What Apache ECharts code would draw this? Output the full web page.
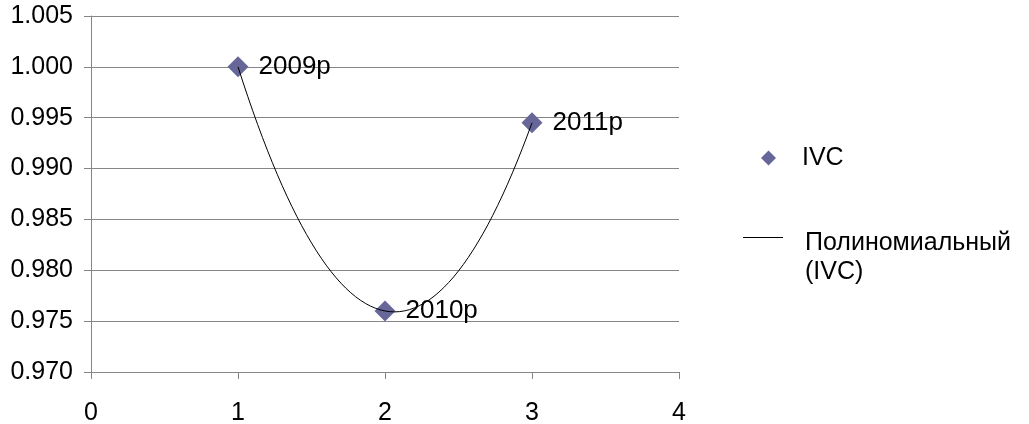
<!DOCTYPE html>
<html>
<head>
<meta charset="utf-8">
<script src="https://cdn.jsdelivr.net/npm/echarts@6/dist/echarts.min.js"></script>
<style>
  html, body { margin: 0; padding: 0; background: #fff; }
  #main { width: 1029px; height: 424px; }
</style>
</head>
<body>
<div id="main"></div>
<script>
// data
var xValues = [1, 2, 3];
var yValues = [1.000, 0.976, 0.9945];
var pointLabels = ['2009p', '2010p', '2011p'];
var seriesName = 'IVC';
var trendName = 'Полиномиальный (IVC)';

// polynomial (order 2) trendline fitted to the points, like the spreadsheet does
function quadFit(xs, ys) {
  // normal equations for a + b x + c x^2
  var s = [0, 0, 0, 0, 0], t = [0, 0, 0];
  for (var i = 0; i < xs.length; i++) {
    var p = 1;
    for (var k = 0; k < 5; k++) { s[k] += p; if (k < 3) t[k] += p * ys[i]; p *= xs[i]; }
  }
  var m = [[s[0], s[1], s[2], t[0]], [s[1], s[2], s[3], t[1]], [s[2], s[3], s[4], t[2]]];
  for (var c = 0; c < 3; c++) {
    for (var r = c + 1; r < 3; r++) {
      var f = m[r][c] / m[c][c];
      for (var j = c; j < 4; j++) m[r][j] -= f * m[c][j];
    }
  }
  var coef = [0, 0, 0];
  for (var r2 = 2; r2 >= 0; r2--) {
    var v = m[r2][3];
    for (var j2 = r2 + 1; j2 < 3; j2++) v -= m[r2][j2] * coef[j2];
    coef[r2] = v / m[r2][r2];
  }
  return coef;
}
var coef = quadFit(xValues, yValues);
var trendData = [];
var x0 = Math.min.apply(null, xValues), x1 = Math.max.apply(null, xValues);
for (var n = 0; n <= 60; n++) {
  var x = x0 + (x1 - x0) * n / 60;
  trendData.push([x, coef[0] + coef[1] * x + coef[2] * x * x]);
}

var pointData = xValues.map(function (x, i) { return [x, yValues[i]]; });

var font = 'Liberation Sans';
var chart = echarts.init(document.getElementById('main'));
var option = {
  backgroundColor: '#ffffff',
  animation: false,
  grid: { left: 91, top: 16, width: 588, height: 356, containLabel: false, outerBoundsMode: 'none' },
  xAxis: {
    type: 'value', min: 0, max: 4, interval: 1,
    axisLine: { show: true, lineStyle: { color: '#868686', width: 1 } },
    axisTick: { show: true, length: 7, lineStyle: { color: '#868686' } },
    splitLine: { show: false },
    axisLabel: { color: '#000', fontFamily: font, fontSize: 25, margin: 29 }
  },
  yAxis: {
    type: 'value', min: 0.970, max: 1.005, interval: 0.005,
    axisLine: { show: true, lineStyle: { color: '#868686', width: 1 } },
    axisTick: { show: true, length: 7, lineStyle: { color: '#868686' } },
    splitLine: { show: true, lineStyle: { color: '#868686', width: 1 } },
    axisLabel: {
      color: '#000', fontFamily: font, fontSize: 25, margin: 18,
      formatter: function (v) { return v.toFixed(3); }
    }
  },
  legend: [{
    data: [{ name: seriesName, icon: 'diamond' }],
    orient: 'vertical', left: 761, top: 143, padding: 0,
    itemWidth: 15, itemHeight: 15,
    textStyle: { fontFamily: font, fontSize: 25, lineHeight: 30, color: '#000', padding: [0, 0, 0, 21] }
  }, {
    data: [{ name: trendName, icon: 'path://M0,0 L40,0 L40,1 L0,1 Z' }],
    orient: 'vertical', left: 743, top: 188, padding: 0,
    itemWidth: 40, itemHeight: 1,
    textStyle: {
      fontFamily: font, fontSize: 25, color: '#000', lineHeight: 29, padding: [0, 0, 0, 17],
      rich: {
        s: { fontSize: 1, lineHeight: 41 },
        t: { fontFamily: font, fontSize: 25, color: '#000', lineHeight: 29 }
      }
    },
    formatter: function () { return '{s| }\n{t|Полиномиальный}\n{t|(IVC)}'; }
  }],
  series: [{
    name: trendName,
    type: 'line',
    data: trendData,
    showSymbol: false,
    symbol: 'none',
    smooth: false,
    lineStyle: { color: '#000', width: 1 },
    itemStyle: { color: '#000' },
    z: 3
  }, {
    name: seriesName,
    type: 'scatter',
    data: pointData,
    symbol: 'diamond',
    symbolSize: 21,
    itemStyle: { color: '#666699', opacity: 1 },
    label: {
      show: true, position: 'right', distance: 10,
      fontFamily: font, fontSize: 26, color: '#000',
      formatter: function (p) { return pointLabels[p.dataIndex]; }
    },
    z: 2
  }]
};
chart.setOption(option);
</script>
</body>
</html>
